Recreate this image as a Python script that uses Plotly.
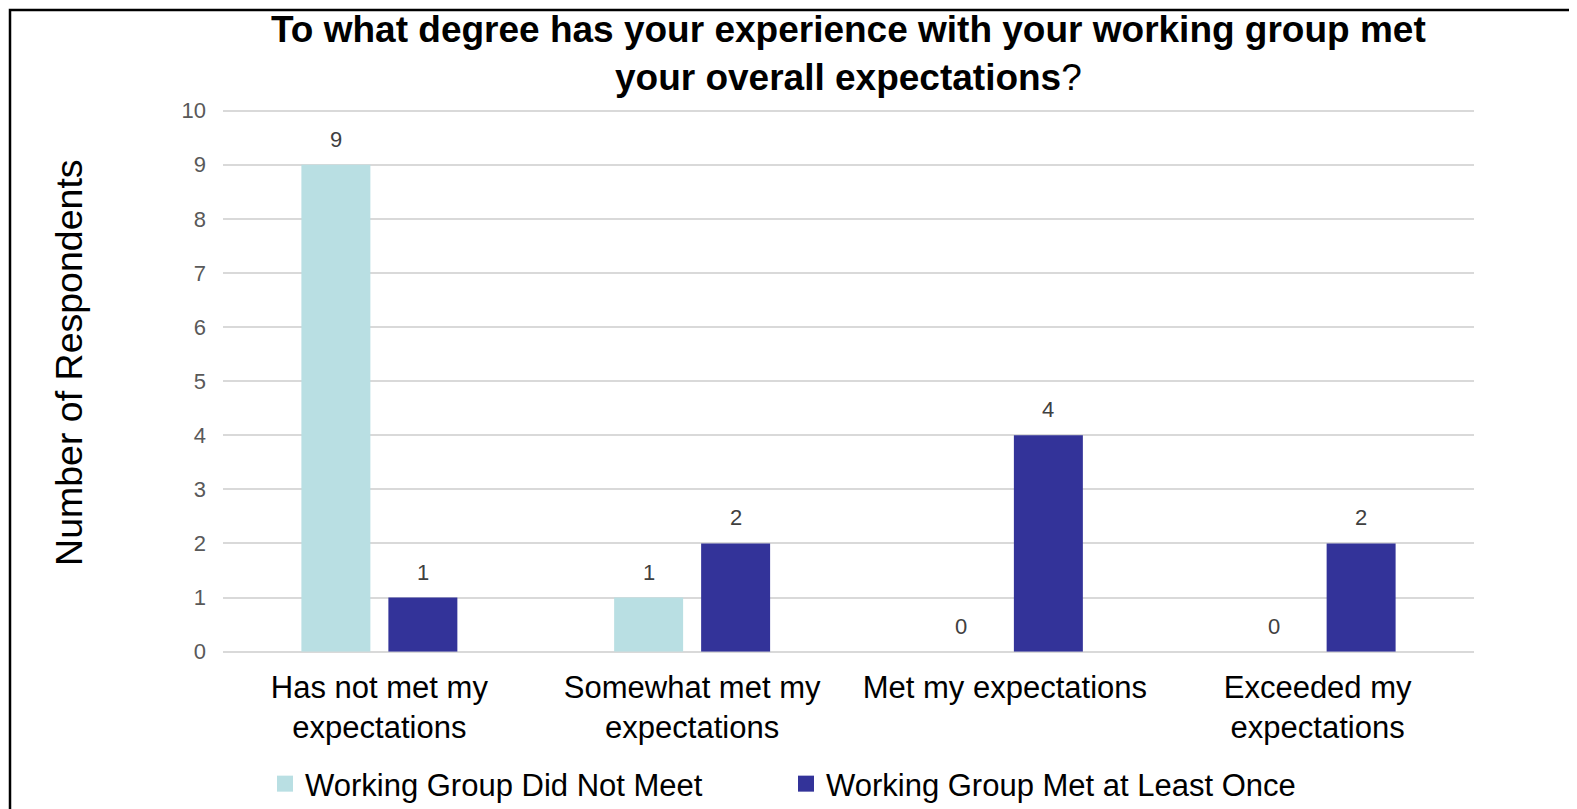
import plotly.graph_objects as go

categories = ["Has not met my<br>expectations", "Somewhat met my<br>expectations",
              "Met my expectations", "Exceeded my<br>expectations"]
series_names = ["Working Group Did Not Meet", "Working Group Met at Least Once"]
did_not_meet = [9, 1, 0, 0]
met_once = [1, 2, 4, 2]
y_ticks = list(range(0, 11))

colors = ["#B9DFE3", "#333399"]
FONT = "Liberation Sans, Arial, sans-serif"

# page body has an 8px margin; figure sized to fit the window
OFF = 8
W, H = 1569, 801
ML, MR, MT, MB = 215, 103, 101, 155
PW, PH = W - ML - MR, H - MT - MB


def px_x(sx):
    return (sx - OFF - ML) / PW


def px_y(sy):
    return (H - MB - (sy - OFF)) / PH


fig = go.Figure()
for name, vals, col in zip(series_names, [did_not_meet, met_once], colors):
    fig.add_trace(go.Bar(x=categories, y=vals, name=name, marker_color=col,
                         marker_line_width=0, showlegend=False))
    fig.add_trace(go.Scatter(x=[None], y=[None], mode="markers", name=name,
                             marker=dict(symbol="square", size=20, color=col)))

BARGAP, GROUPGAP = 0.4437, 0.207

# data labels
slot = PW / 4 * (1 - BARGAP) / 2
for i, vals in enumerate([did_not_meet, met_once]):
    shift = (-0.5 if i == 0 else 0.5) * slot
    for c, v in zip(categories, vals):
        fig.add_annotation(x=c, y=v, text=str(v), showarrow=False, xshift=shift,
                           yanchor="bottom", yshift=11,
                           font=dict(family=FONT, size=22, color="#404040"))

# y-axis title
fig.add_annotation(xref="paper", yref="paper", x=px_x(69), y=px_y(364),
                   xanchor="center", yanchor="middle",
                   text="Number of Respondents", textangle=-90, showarrow=False,
                   font=dict(family=FONT, size=37.5, color="#000000"))

# chart title
fig.add_annotation(xref="paper", yref="paper", x=0.5, y=px_y(7),
                   xanchor="center", yanchor="top", showarrow=False,
                   text="<b>To what degree has your experience with your working group met<br>your overall expectations</b>?",
                   font=dict(family=FONT, size=37, color="#000000"))

# outer border
fig.add_shape(type="rect", xref="paper", yref="paper",
              x0=px_x(10), x1=px_x(1573), y0=px_y(840), y1=px_y(9.5),
              line=dict(color="#000000", width=2.5), fillcolor="rgba(0,0,0,0)")

fig.update_layout(
    width=W, height=H,
    margin=dict(l=ML, r=MR, t=MT, b=MB),
    paper_bgcolor="white", plot_bgcolor="white",
    barmode="group", bargap=BARGAP, bargroupgap=GROUPGAP,
    font=dict(family=FONT),
    legend=dict(orientation="h", xref="container", yref="container",
                x=257 / W, xanchor="left", y=1 - (784 - OFF) / H, yanchor="middle",
                font=dict(family=FONT, size=31, color="#000000"),
                entrywidth=476, entrywidthmode="pixels", bgcolor="rgba(0,0,0,0)"),
    xaxis=dict(tickfont=dict(family=FONT, size=31, color="#000000"),
               showline=False, ticks="", ticklabelstandoff=14),
    yaxis=dict(range=[0, 10.03], tickvals=y_ticks, gridcolor="#D9D9D9", gridwidth=1.5,
               zeroline=True, zerolinecolor="#D9D9D9", zerolinewidth=1.5,
               tickfont=dict(family=FONT, size=22, color="#595959"),
               ticklabelstandoff=16, showline=False, ticks=""),
)

fig.write_html("out.html")
